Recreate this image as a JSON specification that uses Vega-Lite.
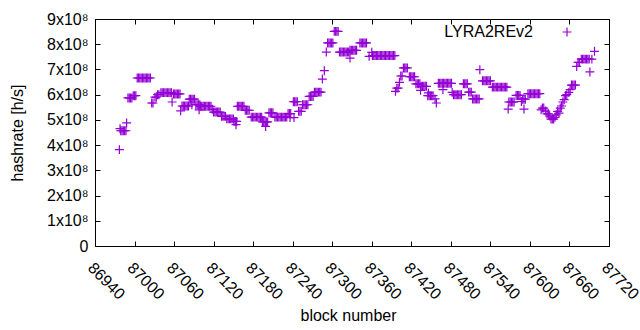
{
"$schema": "https://vega.github.io/schema/vega-lite/v6.json",
"width": 514, "height": 227,
"autosize": {"type": "none"},
"padding": {"left": 95, "top": 19, "right": 31, "bottom": 84},
"background": "white",
"config": {"view": {"stroke": "#000", "strokeWidth": 1}, "font": "Liberation Sans",
 "axis": {"grid": false, "domain": false, "tickColor": "#000", "tickSize": -5, "labelFont": "Liberation Sans", "labelFontSize": 16, "labelColor": "#000", "titleFont": "Liberation Sans", "titleFontSize": 16, "titleFontWeight": "normal", "titleColor": "#000"}},
"data": {"values": [
{"b":86977,"h":3.82e8},{"b":86978,"h":4.65e8},{"b":86979,"h":4.57e8},{"b":86981,"h":4.57e8},{"b":86983,"h":4.57e8},{"b":86985,"h":4.57e8},{"b":86987,"h":4.57e8},{"b":86988,"h":4.88e8},
{"b":86990,"h":5.87e8},{"b":86992,"h":5.87e8},{"b":86994,"h":5.87e8},{"b":86996,"h":5.87e8},{"b":86998,"h":5.96e8},{"b":87000,"h":5.96e8},{"b":87002,"h":5.96e8},
{"b":87004,"h":6.66e8},{"b":87006,"h":6.66e8},{"b":87008,"h":6.66e8},{"b":87010,"h":6.66e8},{"b":87012,"h":6.66e8},{"b":87014,"h":6.66e8},{"b":87016,"h":6.66e8},{"b":87018,"h":6.66e8},{"b":87020,"h":6.66e8},{"b":87022,"h":6.66e8},{"b":87024,"h":6.66e8},
{"b":87026,"h":5.67e8},{"b":87028,"h":5.67e8},{"b":87031,"h":5.9e8},{"b":87033,"h":5.9e8},{"b":87035,"h":6.0e8},{"b":87037,"h":6.0e8},
{"b":87040,"h":6.08e8},{"b":87042,"h":6.08e8},{"b":87044,"h":6.08e8},{"b":87046,"h":6.08e8},{"b":87048,"h":6.08e8},{"b":87050,"h":6.08e8},{"b":87052,"h":6.08e8},{"b":87054,"h":6.08e8},{"b":87056,"h":6.08e8},
{"b":87057,"h":5.71e8},{"b":87059,"h":6.03e8},{"b":87061,"h":6.03e8},{"b":87063,"h":6.03e8},{"b":87065,"h":6.03e8},{"b":87067,"h":6.03e8},{"b":87069,"h":6.03e8},{"b":87070,"h":5.36e8},
{"b":87072,"h":5.55e8},{"b":87074,"h":5.55e8},{"b":87076,"h":5.55e8},{"b":87078,"h":5.55e8},{"b":87080,"h":5.55e8},{"b":87082,"h":5.55e8},
{"b":87083,"h":5.82e8},{"b":87085,"h":5.82e8},{"b":87087,"h":5.82e8},{"b":87089,"h":5.82e8},{"b":87091,"h":5.82e8},{"b":87087,"h":5.6e8},
{"b":87093,"h":5.6e8},{"b":87095,"h":5.6e8},{"b":87097,"h":5.6e8},{"b":87099,"h":5.6e8},{"b":87098,"h":5.4e8},
{"b":87100,"h":5.54e8},{"b":87102,"h":5.54e8},{"b":87104,"h":5.54e8},{"b":87106,"h":5.54e8},{"b":87108,"h":5.54e8},{"b":87110,"h":5.54e8},{"b":87112,"h":5.54e8},{"b":87114,"h":5.54e8},{"b":87116,"h":5.54e8},{"b":87118,"h":5.42e8},
{"b":87120,"h":5.31e8},{"b":87122,"h":5.31e8},{"b":87124,"h":5.31e8},{"b":87126,"h":5.31e8},{"b":87128,"h":5.31e8},{"b":87130,"h":5.31e8},
{"b":87132,"h":5.14e8},{"b":87134,"h":5.14e8},{"b":87136,"h":5.14e8},{"b":87138,"h":5.14e8},
{"b":87140,"h":5.04e8},{"b":87142,"h":5.04e8},{"b":87144,"h":5.04e8},{"b":87146,"h":5.04e8},{"b":87148,"h":5.04e8},{"b":87150,"h":5.04e8},
{"b":87151,"h":4.94e8},{"b":87153,"h":4.94e8},{"b":87155,"h":4.94e8},{"b":87154,"h":4.81e8},
{"b":87156,"h":5.54e8},{"b":87158,"h":5.54e8},{"b":87160,"h":5.54e8},{"b":87162,"h":5.54e8},{"b":87164,"h":5.54e8},{"b":87166,"h":5.54e8},
{"b":87168,"h":5.38e8},{"b":87170,"h":5.38e8},{"b":87172,"h":5.38e8},{"b":87174,"h":5.38e8},
{"b":87177,"h":5.11e8},{"b":87179,"h":5.11e8},{"b":87181,"h":5.11e8},{"b":87183,"h":5.11e8},{"b":87185,"h":5.11e8},{"b":87187,"h":5.11e8},{"b":87189,"h":5.11e8},{"b":87191,"h":5.11e8},{"b":87193,"h":5.11e8},
{"b":87194,"h":4.92e8},{"b":87196,"h":4.92e8},{"b":87198,"h":4.92e8},{"b":87200,"h":4.92e8},{"b":87202,"h":4.92e8},{"b":87199,"h":4.74e8},
{"b":87204,"h":5.28e8},{"b":87206,"h":5.28e8},{"b":87208,"h":5.28e8},{"b":87210,"h":5.28e8},
{"b":87213,"h":5.11e8},{"b":87215,"h":5.11e8},{"b":87217,"h":5.11e8},{"b":87219,"h":5.11e8},{"b":87221,"h":5.11e8},{"b":87223,"h":5.11e8},{"b":87225,"h":5.11e8},{"b":87227,"h":5.11e8},{"b":87229,"h":5.11e8},{"b":87231,"h":5.11e8},
{"b":87233,"h":5.25e8},{"b":87235,"h":5.25e8},{"b":87237,"h":5.25e8},{"b":87236,"h":5.09e8},
{"b":87241,"h":5.72e8},{"b":87243,"h":5.72e8},{"b":87245,"h":5.72e8},{"b":87247,"h":5.72e8},{"b":87242,"h":5.09e8},
{"b":87249,"h":5.34e8},{"b":87251,"h":5.34e8},{"b":87253,"h":5.34e8},
{"b":87255,"h":5.6e8},{"b":87257,"h":5.6e8},{"b":87259,"h":5.6e8},{"b":87261,"h":5.6e8},{"b":87263,"h":5.6e8},
{"b":87265,"h":5.93e8},{"b":87267,"h":5.93e8},{"b":87269,"h":5.93e8},{"b":87271,"h":5.93e8},
{"b":87273,"h":6.1e8},{"b":87275,"h":6.1e8},{"b":87277,"h":6.1e8},{"b":87279,"h":6.1e8},{"b":87281,"h":6.1e8},{"b":87283,"h":6.1e8},
{"b":87285,"h":6.62e8},{"b":87288,"h":6.95e8},{"b":87291,"h":7.69e8},
{"b":87293,"h":8.05e8},{"b":87295,"h":8.05e8},{"b":87297,"h":8.05e8},{"b":87299,"h":8.05e8},{"b":87301,"h":8.05e8},
{"b":87303,"h":8.51e8},{"b":87305,"h":8.51e8},{"b":87307,"h":8.51e8},{"b":87309,"h":8.51e8},
{"b":87311,"h":7.69e8},{"b":87313,"h":7.69e8},{"b":87315,"h":7.69e8},{"b":87317,"h":7.69e8},{"b":87319,"h":7.69e8},{"b":87321,"h":7.69e8},{"b":87323,"h":7.69e8},{"b":87325,"h":7.69e8},
{"b":87327,"h":7.45e8},
{"b":87327,"h":7.76e8},{"b":87329,"h":7.76e8},{"b":87331,"h":7.76e8},{"b":87333,"h":7.76e8},{"b":87335,"h":7.76e8},{"b":87337,"h":7.76e8},
{"b":87342,"h":8.05e8},{"b":87344,"h":8.05e8},{"b":87346,"h":8.05e8},{"b":87348,"h":8.05e8},{"b":87350,"h":8.05e8},{"b":87352,"h":8.05e8},
{"b":87356,"h":7.52e8},{"b":87360,"h":7.68e8},
{"b":87361,"h":7.55e8},{"b":87363,"h":7.55e8},{"b":87365,"h":7.55e8},{"b":87367,"h":7.55e8},{"b":87369,"h":7.55e8},{"b":87371,"h":7.55e8},{"b":87373,"h":7.55e8},{"b":87375,"h":7.55e8},{"b":87377,"h":7.55e8},{"b":87379,"h":7.55e8},{"b":87381,"h":7.55e8},{"b":87383,"h":7.55e8},{"b":87385,"h":7.55e8},{"b":87387,"h":7.55e8},{"b":87389,"h":7.55e8},{"b":87391,"h":7.55e8},{"b":87393,"h":7.55e8},{"b":87395,"h":7.55e8},
{"b":87396,"h":6.13e8},{"b":87398,"h":6.26e8},{"b":87400,"h":6.26e8},{"b":87402,"h":6.49e8},{"b":87404,"h":6.74e8},{"b":87406,"h":6.74e8},
{"b":87408,"h":7.06e8},{"b":87410,"h":7.06e8},{"b":87412,"h":7.06e8},{"b":87414,"h":7.06e8},
{"b":87417,"h":6.71e8},{"b":87419,"h":6.71e8},{"b":87421,"h":6.71e8},{"b":87423,"h":6.71e8},{"b":87425,"h":6.71e8},
{"b":87427,"h":6.43e8},{"b":87429,"h":6.43e8},{"b":87431,"h":6.43e8},{"b":87433,"h":6.43e8},{"b":87434,"h":6.17e8},
{"b":87435,"h":6.33e8},{"b":87437,"h":6.33e8},{"b":87439,"h":6.33e8},{"b":87441,"h":6.33e8},{"b":87443,"h":6.33e8},{"b":87446,"h":6.07e8},
{"b":87445,"h":5.96e8},{"b":87447,"h":5.96e8},{"b":87449,"h":5.96e8},{"b":87451,"h":5.96e8},{"b":87453,"h":5.96e8},
{"b":87456,"h":5.83e8},{"b":87458,"h":5.67e8},
{"b":87461,"h":6.45e8},{"b":87463,"h":6.45e8},{"b":87465,"h":6.45e8},{"b":87467,"h":6.45e8},{"b":87469,"h":6.45e8},{"b":87471,"h":6.45e8},{"b":87473,"h":6.45e8},{"b":87475,"h":6.45e8},{"b":87477,"h":6.45e8},{"b":87479,"h":6.45e8},{"b":87481,"h":6.45e8},
{"b":87468,"h":6.2e8},{"b":87482,"h":6.09e8},
{"b":87484,"h":6.0e8},{"b":87486,"h":6.0e8},{"b":87488,"h":6.0e8},{"b":87490,"h":6.0e8},{"b":87492,"h":6.0e8},{"b":87494,"h":6.0e8},{"b":87496,"h":6.0e8},
{"b":87499,"h":6.43e8},{"b":87501,"h":6.43e8},{"b":87503,"h":6.43e8},{"b":87505,"h":6.43e8},
{"b":87507,"h":6.1e8},{"b":87509,"h":6.1e8},{"b":87511,"h":6.1e8},
{"b":87513,"h":5.83e8},{"b":87515,"h":5.83e8},{"b":87517,"h":5.83e8},{"b":87519,"h":5.83e8},{"b":87521,"h":5.83e8},{"b":87523,"h":5.83e8},
{"b":87524,"h":6.99e8},
{"b":87528,"h":6.55e8},{"b":87530,"h":6.55e8},{"b":87532,"h":6.55e8},{"b":87534,"h":6.55e8},{"b":87536,"h":6.55e8},{"b":87538,"h":6.55e8},{"b":87540,"h":6.55e8},
{"b":87543,"h":6.3e8},{"b":87545,"h":6.3e8},{"b":87547,"h":6.3e8},{"b":87549,"h":6.3e8},{"b":87551,"h":6.3e8},{"b":87553,"h":6.3e8},{"b":87555,"h":6.3e8},{"b":87557,"h":6.3e8},{"b":87559,"h":6.3e8},{"b":87561,"h":6.3e8},{"b":87563,"h":6.3e8},{"b":87565,"h":6.3e8},
{"b":87567,"h":5.43e8},
{"b":87568,"h":5.71e8},{"b":87570,"h":5.71e8},{"b":87572,"h":5.71e8},{"b":87574,"h":5.71e8},{"b":87576,"h":5.71e8},
{"b":87579,"h":5.97e8},{"b":87581,"h":5.97e8},{"b":87583,"h":5.97e8},{"b":87585,"h":5.97e8},
{"b":87587,"h":5.73e8},{"b":87589,"h":5.82e8},{"b":87591,"h":5.82e8},{"b":87593,"h":5.82e8},{"b":87591,"h":5.43e8},
{"b":87597,"h":6.04e8},{"b":87599,"h":6.04e8},{"b":87601,"h":6.04e8},{"b":87603,"h":6.04e8},{"b":87605,"h":6.04e8},{"b":87607,"h":6.04e8},{"b":87609,"h":6.04e8},{"b":87611,"h":6.04e8},{"b":87613,"h":6.04e8},{"b":87615,"h":6.04e8},
{"b":87617,"h":5.4e8},{"b":87619,"h":5.47e8},{"b":87621,"h":5.47e8},{"b":87624,"h":5.35e8},{"b":87626,"h":5.24e8},{"b":87628,"h":5.24e8},{"b":87630,"h":5.15e8},
{"b":87632,"h":5.03e8},{"b":87634,"h":5.03e8},{"b":87636,"h":5.03e8},{"b":87638,"h":5.1e8},
{"b":87640,"h":5.2e8},{"b":87642,"h":5.34e8},{"b":87644,"h":5.27e8},{"b":87646,"h":5.47e8},{"b":87648,"h":5.55e8},{"b":87650,"h":5.71e8},{"b":87652,"h":5.8e8},{"b":87654,"h":5.96e8},{"b":87656,"h":6.0e8},{"b":87659,"h":6.09e8},{"b":87661,"h":6.2e8},
{"b":87663,"h":6.38e8},{"b":87665,"h":6.38e8},{"b":87667,"h":6.38e8},{"b":87669,"h":6.38e8},
{"b":87671,"h":7.12e8},{"b":87673,"h":7.28e8},{"b":87675,"h":7.28e8},
{"b":87678,"h":7.41e8},{"b":87680,"h":7.41e8},{"b":87682,"h":7.41e8},{"b":87684,"h":7.41e8},{"b":87686,"h":7.41e8},{"b":87688,"h":7.41e8},{"b":87690,"h":7.41e8},
{"b":87691,"h":6.9e8},{"b":87694,"h":7.41e8},{"b":87698,"h":7.72e8}
]},
"layer": [
 {"mark": {"type": "point", "shape": "M-1,0H1M0,-1V1", "filled": false, "strokeWidth": 1.2, "size": 80, "opacity": 1},
  "encoding": {
   "x": {"field": "b", "type": "quantitative", "scale": {"domain": [86940, 87720], "nice": false, "zero": false},
     "axis": {"values": [86940,87000,87060,87120,87180,87240,87300,87360,87420,87480,87540,87600,87660,87720], "format": "d", "title": "block number", "labelAngle": 45, "labelAlign": "left", "labelBaseline": "middle", "labelPadding": 24, "labelOffset": -5, "labelFlush": false, "labelOverlap": false, "titleX": 253, "titleY": 69, "titleBaseline": "middle", "titleAlign": "center"}},
   "y": {"field": "h", "type": "quantitative", "scale": {"domain": [0, 900000000], "nice": false},
     "axis": {"values": [0,100000000,200000000,300000000,400000000,500000000,600000000,700000000,800000000,900000000], "labelExpr": "datum.value == 0 ? '0' : format(datum.value/1e8, 'd') + 'x10⁸'", "title": "hashrate [h/s]", "labelPadding": 12, "labelFlush": false, "labelOverlap": false, "titleX": -78, "titleY": 113.5, "titleAngle": -90, "titleBaseline": "middle", "titleAlign": "center"}},
   "color": {"datum": "LYRA2REv2", "scale": {"range": ["#9400D3"]},
     "legend": {"orient": "none", "legendX": 464, "legendY": 5, "title": null, "padding": 0, "symbolType": "M-1,0H1M0,-1V1", "symbolSize": 80, "symbolStrokeWidth": 1.2, "labelAlign": "right", "labelOffset": -42, "labelFont": "Liberation Sans", "labelFontSize": 16, "labelColor": "#000"}}
  }},
 {"mark": {"type": "point", "opacity": 0},
  "encoding": {
   "x": {"field": "b", "type": "quantitative", "axis": {"orient": "top", "values": [86940,87000,87060,87120,87180,87240,87300,87360,87420,87480,87540,87600,87660,87720], "labels": false, "title": null}},
   "y": {"field": "h", "type": "quantitative", "axis": {"orient": "right", "values": [0,100000000,200000000,300000000,400000000,500000000,600000000,700000000,800000000,900000000], "labels": false, "title": null}}
  }}
],
"resolve": {"axis": {"x": "independent", "y": "independent"}}
}
